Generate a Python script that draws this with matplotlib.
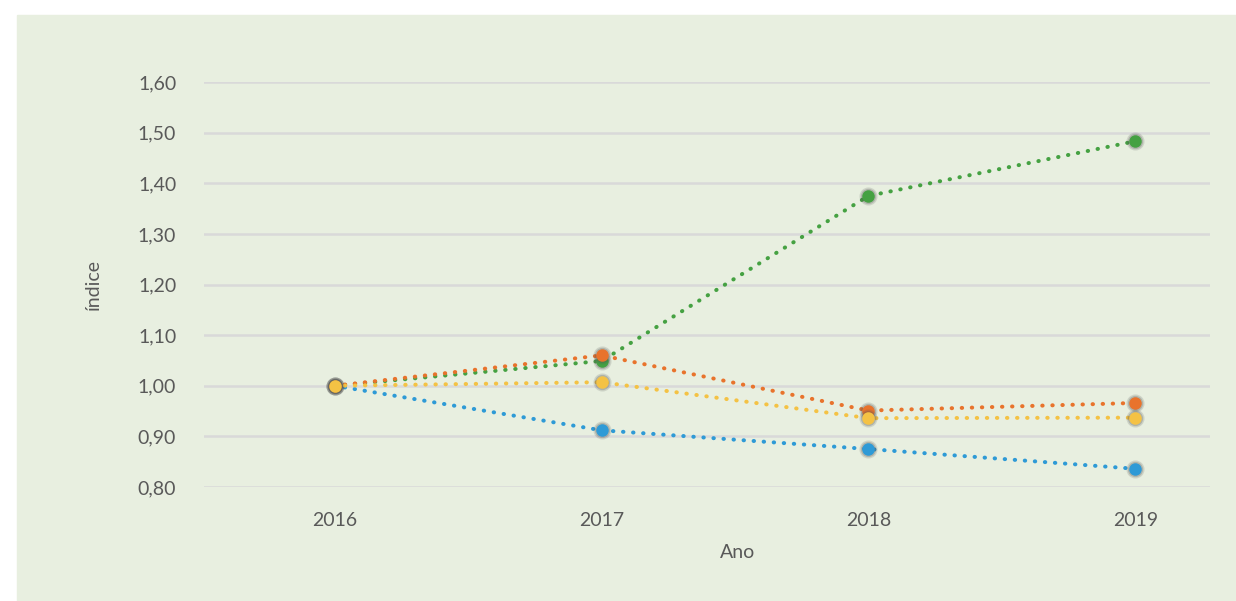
import matplotlib.pyplot as plt
from matplotlib.patches import Rectangle

# data
anos = ['2016', '2017', '2018', '2019']
verde = [1.00, 1.049, 1.375, 1.483]
laranja = [1.00, 1.060, 0.951, 0.966]
amarelo = [1.00, 1.007, 0.936, 0.937]
azul = [1.00, 0.912, 0.875, 0.836]

series = [
    (azul, '#2e9ad6'),
    (verde, '#45a142'),
    (laranja, '#e8732c'),
    (amarelo, '#f4c244'),
]
yticks = [0.80, 0.90, 1.00, 1.10, 1.20, 1.30, 1.40, 1.50, 1.60]

plt.rcParams['font.family'] = ['Lato', 'DejaVu Sans']
bg = '#e8efe0'
txt = '#595959'

fig = plt.figure(figsize=(12.36, 6.01), dpi=100)
fig.patch.set_facecolor('white')
rect = Rectangle((17 / 1236, 0), 1, 1 - 15 / 601,
                 transform=fig.transFigure, color=bg, zorder=-10)
fig.add_artist(rect)

ax = fig.add_axes([204 / 1236, (601 - 487) / 601, (1210 - 204) / 1236, (487 - 82) / 601])
ax.set_facecolor('none')
ax.set_zorder(1)

x = list(range(len(anos)))
for i, (vals, c) in enumerate(series):
    z = 3 + i * 3
    ax.plot(x, vals, color=c, lw=2.9, ls=(0, (0.1, 2.4)), dash_capstyle='round',
            zorder=z)
    # soft shadow around markers
    ax.plot(x, vals, 'o', color='#555555', ms=13, alpha=0.18, mec='none', zorder=z + 1)
    ax.plot(x, vals, 'o', color='#555555', ms=11, alpha=0.25, mec='none', zorder=z + 1)
    ax.plot(x, vals, 'o', color=c, ms=9, mec='none', zorder=z + 2)

ax.set_xlim(-0.49, 3.28)
ax.set_ylim(0.80, 1.60)
ax.set_xticks(x)
ax.set_xticklabels(anos)
ax.set_yticks(yticks)
ax.set_yticklabels([f'{v:.2f}'.replace('.', ',') for v in yticks])
ax.grid(axis='y', color='#d9d9d9', lw=1.8, zorder=1)
ax.set_axisbelow(True)
for s in ax.spines.values():
    s.set_visible(False)
ax.tick_params(length=0, labelsize=14, colors=txt, pad=20)
ax.tick_params(axis='x', pad=18)

ax.set_xlabel('Ano', fontsize=14, color=txt)
ax.xaxis.set_label_coords(0.53, -0.14)
ax.set_ylabel('índice', fontsize=14, color=txt)
ax.yaxis.set_label_coords(-0.102, 0.5)

fig.savefig('out.png', dpi=100, facecolor=fig.get_facecolor())
